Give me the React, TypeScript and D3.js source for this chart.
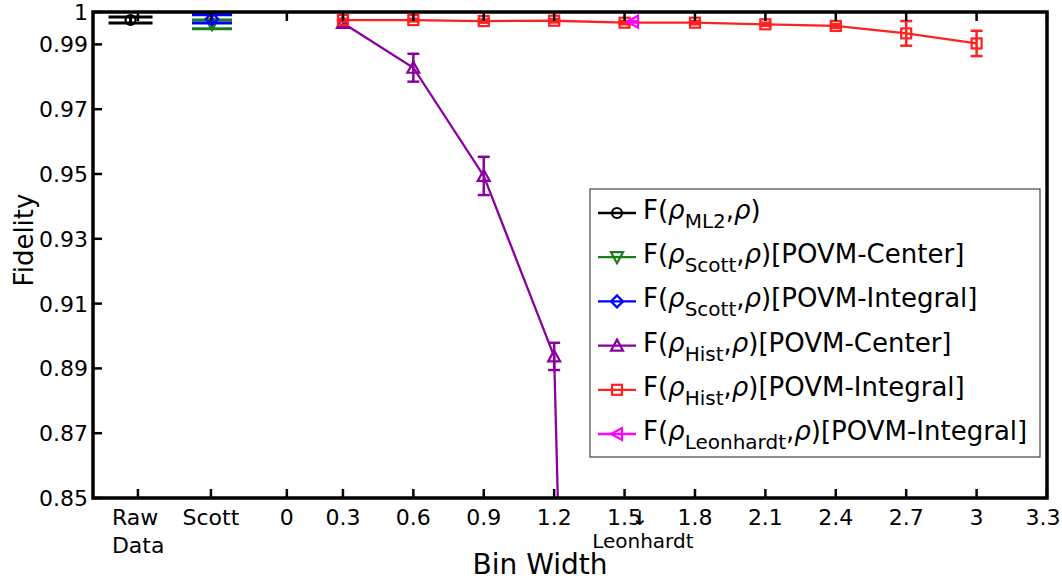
import React from "react";
import * as d3 from "d3";

// ---- data ----
const xTickVals = [-0.5736, -0.2625, 0.061, 0.3, 0.6, 0.9, 1.2, 1.5, 1.8, 2.1, 2.4, 2.7, 3.0, 3.3];
const xTickLabels = ["Raw\nData", "Scott", "0", "0.3", "0.6", "0.9", "1.2", "1.5", "1.8", "2.1", "2.4", "2.7", "3", "3.3"];
const yTickVals = [1, 0.99, 0.97, 0.95, 0.93, 0.91, 0.89, 0.87, 0.85];
const yTickLabels = ["1", "0.99", "0.97", "0.95", "0.93", "0.91", "0.89", "0.87", "0.85"];
const leonhardtLabelX = 1.565;

const rawX = [-0.605];
const rawF = [0.99753];
const rawErr = [0.00093];

const scottCenterX = [-0.258];
const scottCenterF = [0.9962];
const scottCenterErr = [0.00135];

const scottIntegralX = [-0.258];
const scottIntegralF = [0.99789];
const scottIntegralErr = [0.00128];

const histCenterX = [0.3, 0.6, 0.9, 1.2, 1.5];
const histCenterF = [0.9966, 0.9828, 0.9494, 0.8937, 0.05];
const histCenterErr = [0.001, 0.0043, 0.0059, 0.0042, 0];

const histIntegralX = [0.3, 0.6, 0.9, 1.2, 1.5, 1.8, 2.1, 2.4, 2.7, 3.0];
const histIntegralF = [0.9975, 0.9975, 0.9972, 0.9973, 0.9967, 0.9967, 0.9962, 0.9957, 0.9934, 0.9903];
const histIntegralErr = [0.0004, 0.0004, 0.0005, 0.0005, 0.0005, 0.0005, 0.0005, 0.0006, 0.0038, 0.0039];

const leonhardtX = [1.536];
const leonhardtF = [0.997];
const leonhardtErr = [0.0002];

type Series = {
  xs: number[];
  fs: number[];
  errs: number[];
  color: string;
  marker: string;
  cap: number;
  ew: number;
  sub: string;
  suffix: string;
};

const series: Series[] = [
  { xs: rawX, fs: rawF, errs: rawErr, color: "#000000", marker: "circle", cap: 44, ew: 3, sub: "ML2", suffix: "" },
  { xs: scottCenterX, fs: scottCenterF, errs: scottCenterErr, color: "#1a7f1a", marker: "tdown", cap: 40, ew: 3, sub: "Scott", suffix: "[POVM-Center]" },
  { xs: scottIntegralX, fs: scottIntegralF, errs: scottIntegralErr, color: "#0000ff", marker: "diamond", cap: 40, ew: 3, sub: "Scott", suffix: "[POVM-Integral]" },
  { xs: histCenterX, fs: histCenterF, errs: histCenterErr, color: "#8a009e", marker: "tup", cap: 12, ew: 2.5, sub: "Hist", suffix: "[POVM-Center]" },
  { xs: histIntegralX, fs: histIntegralF, errs: histIntegralErr, color: "#ff2020", marker: "square", cap: 12, ew: 2.5, sub: "Hist", suffix: "[POVM-Integral]" },
  { xs: leonhardtX, fs: leonhardtF, errs: leonhardtErr, color: "#ff00ff", marker: "tleft", cap: 10, ew: 2, sub: "Leonhardt", suffix: "[POVM-Integral]" },
];

const W = 1062;
const H = 581;
const L = 93, R = 1047, T = 12, B = 498;
const FONT = "DejaVu Sans, sans-serif";

function Marker({ type, cx, cy, color }: { type: string; cx: number; cy: number; color: string }) {
  const s = 5;
  const common = { fill: "none", stroke: color, strokeWidth: 2.2 };
  switch (type) {
    case "circle":
      return <circle cx={cx} cy={cy} r={s} {...common} />;
    case "square":
      return <rect x={cx - s} y={cy - s} width={2 * s} height={2 * s} {...common} />;
    case "diamond":
      return <path d={`M${cx},${cy - 6}L${cx + 6},${cy}L${cx},${cy + 6}L${cx - 6},${cy}Z`} {...common} />;
    case "tup":
      return <path d={`M${cx},${cy - 6}L${cx + 6},${cy + 5}L${cx - 6},${cy + 5}Z`} {...common} />;
    case "tdown":
      return <path d={`M${cx},${cy + 6}L${cx + 6},${cy - 5}L${cx - 6},${cy - 5}Z`} {...common} />;
    case "tleft":
      return <path d={`M${cx - 6},${cy}L${cx + 5},${cy - 6}L${cx + 5},${cy + 6}Z`} {...common} />;
    default:
      return null;
  }
}

export default function App() {
  const x = d3.scaleLinear().domain([-0.765, 3.3]).range([L, R]);
  const y = d3.scaleLinear().domain([0.85, 1]).range([B, T]);
  const line = d3
    .line<[number, number]>()
    .x((d) => x(d[0]))
    .y((d) => y(d[1]));

  const legendX = 590, legendY = 189, legendW = 450, legendH = 268;
  const rowH = 44.2;

  return (
    <svg
      width={W}
      height={H}
      viewBox={`0 0 ${W} ${H}`}
      style={{ position: "absolute", left: 0, top: 0, display: "block", background: "#fff" }}
      fontFamily={FONT}
    >
      <defs>
        <clipPath id="plot">
          <rect x={L} y={T} width={R - L} height={B - T} />
        </clipPath>
      </defs>
      <rect x={0} y={0} width={W} height={H} fill="#fff" />

      {/* series */}
      <g clipPath="url(#plot)">
        {series.map((s, si) => {
          const pts: [number, number][] = s.xs.map((v, i) => [v, s.fs[i]]);
          return (
            <g key={si}>
              {pts.length > 1 && <path d={line(pts) || ""} fill="none" stroke={s.color} strokeWidth={2.3} />}
              {pts.map((p, i) => {
                const cx = x(p[0]);
                const e = s.errs[i];
                if (e <= 0) return null;
                const y1 = y(p[1] + e), y2 = y(p[1] - e);
                return (
                  <g key={i} stroke={s.color} strokeWidth={s.ew}>
                    <line x1={cx} x2={cx} y1={y1} y2={y2} />
                    <line x1={cx - s.cap / 2} x2={cx + s.cap / 2} y1={y1} y2={y1} />
                    <line x1={cx - s.cap / 2} x2={cx + s.cap / 2} y1={y2} y2={y2} />
                  </g>
                );
              })}
              {pts.map((p, i) => (
                <Marker key={"m" + i} type={s.marker} cx={x(p[0])} cy={y(p[1])} color={s.color} />
              ))}
            </g>
          );
        })}
      </g>

      {/* ticks */}
      <g stroke="#000" strokeWidth={2.5}>
        {xTickVals.map((v, i) => (
          <g key={i}>
            <line x1={x(v)} x2={x(v)} y1={B} y2={B - 9} />
            <line x1={x(v)} x2={x(v)} y1={T} y2={T + 9} />
          </g>
        ))}
        {yTickVals.map((v, i) => (
          <line key={i} x1={L} x2={L + 9} y1={y(v)} y2={y(v)} />
        ))}
      </g>

      {/* frame */}
      <rect x={L} y={T} width={R - L} height={B - T} fill="none" stroke="#000" strokeWidth={3.5} />

      {/* y tick labels */}
      {yTickVals.map((v, i) => (
        <text key={i} x={L - 5} y={y(v) + 8} textAnchor="end" fontSize={22} fill="#000">
          {yTickLabels[i]}
        </text>
      ))}

      {/* x tick labels */}
      {xTickVals.map((v, i) => {
        const lines = xTickLabels[i].split("\n");
        if (lines.length > 1) {
          return (
            <text key={i} x={x(v) - 26} y={525} textAnchor="start" fontSize={22} fill="#000">
              {lines.map((l, j) => (
                <tspan key={j} x={x(v) - 26} dy={j === 0 ? 0 : 28}>
                  {l}
                </tspan>
              ))}
            </text>
          );
        }
        const px = Math.min(x(v), W - 19);
        return (
          <text key={i} x={px} y={525} textAnchor="middle" fontSize={22} fill="#000">
            {lines[0]}
          </text>
        );
      })}
      <text x={x(leonhardtLabelX)} y={525} textAnchor="middle" fontSize={20} fill="#000">
        <tspan x={x(leonhardtLabelX)} dy={0}>↓</tspan>
        <tspan x={x(leonhardtLabelX) + 3} dy={23}>Leonhardt</tspan>
      </text>

      {/* axis labels */}
      <text x={540} y={574} textAnchor="middle" fontSize={28} fill="#000">
        Bin Width
      </text>
      <text transform={`translate(33,${(T + B) / 2 - 15}) rotate(-90)`} textAnchor="middle" fontSize={26} fill="#000">
        Fidelity
      </text>

      {/* legend */}
      <rect x={legendX} y={legendY} width={legendW} height={legendH} fill="#fff" stroke="#444" strokeWidth={1.2} />
      {series.map((s, i) => {
        const cy = legendY + 24 + i * rowH;
        return (
          <g key={i}>
            <line x1={598} x2={636} y1={cy} y2={cy} stroke={s.color} strokeWidth={2.3} />
            <Marker type={s.marker} cx={617} cy={cy} color={s.color} />
            <text x={643} y={cy + 6} fontSize={26} fill="#000">
              F(
              <tspan fontStyle="italic">ρ</tspan>
              <tspan fontSize={20} dy={9}>{s.sub}</tspan>
              <tspan dy={-9}>,</tspan>
              <tspan fontStyle="italic">ρ</tspan>){s.suffix}
            </text>
          </g>
        );
      })}
    </svg>
  );
}
